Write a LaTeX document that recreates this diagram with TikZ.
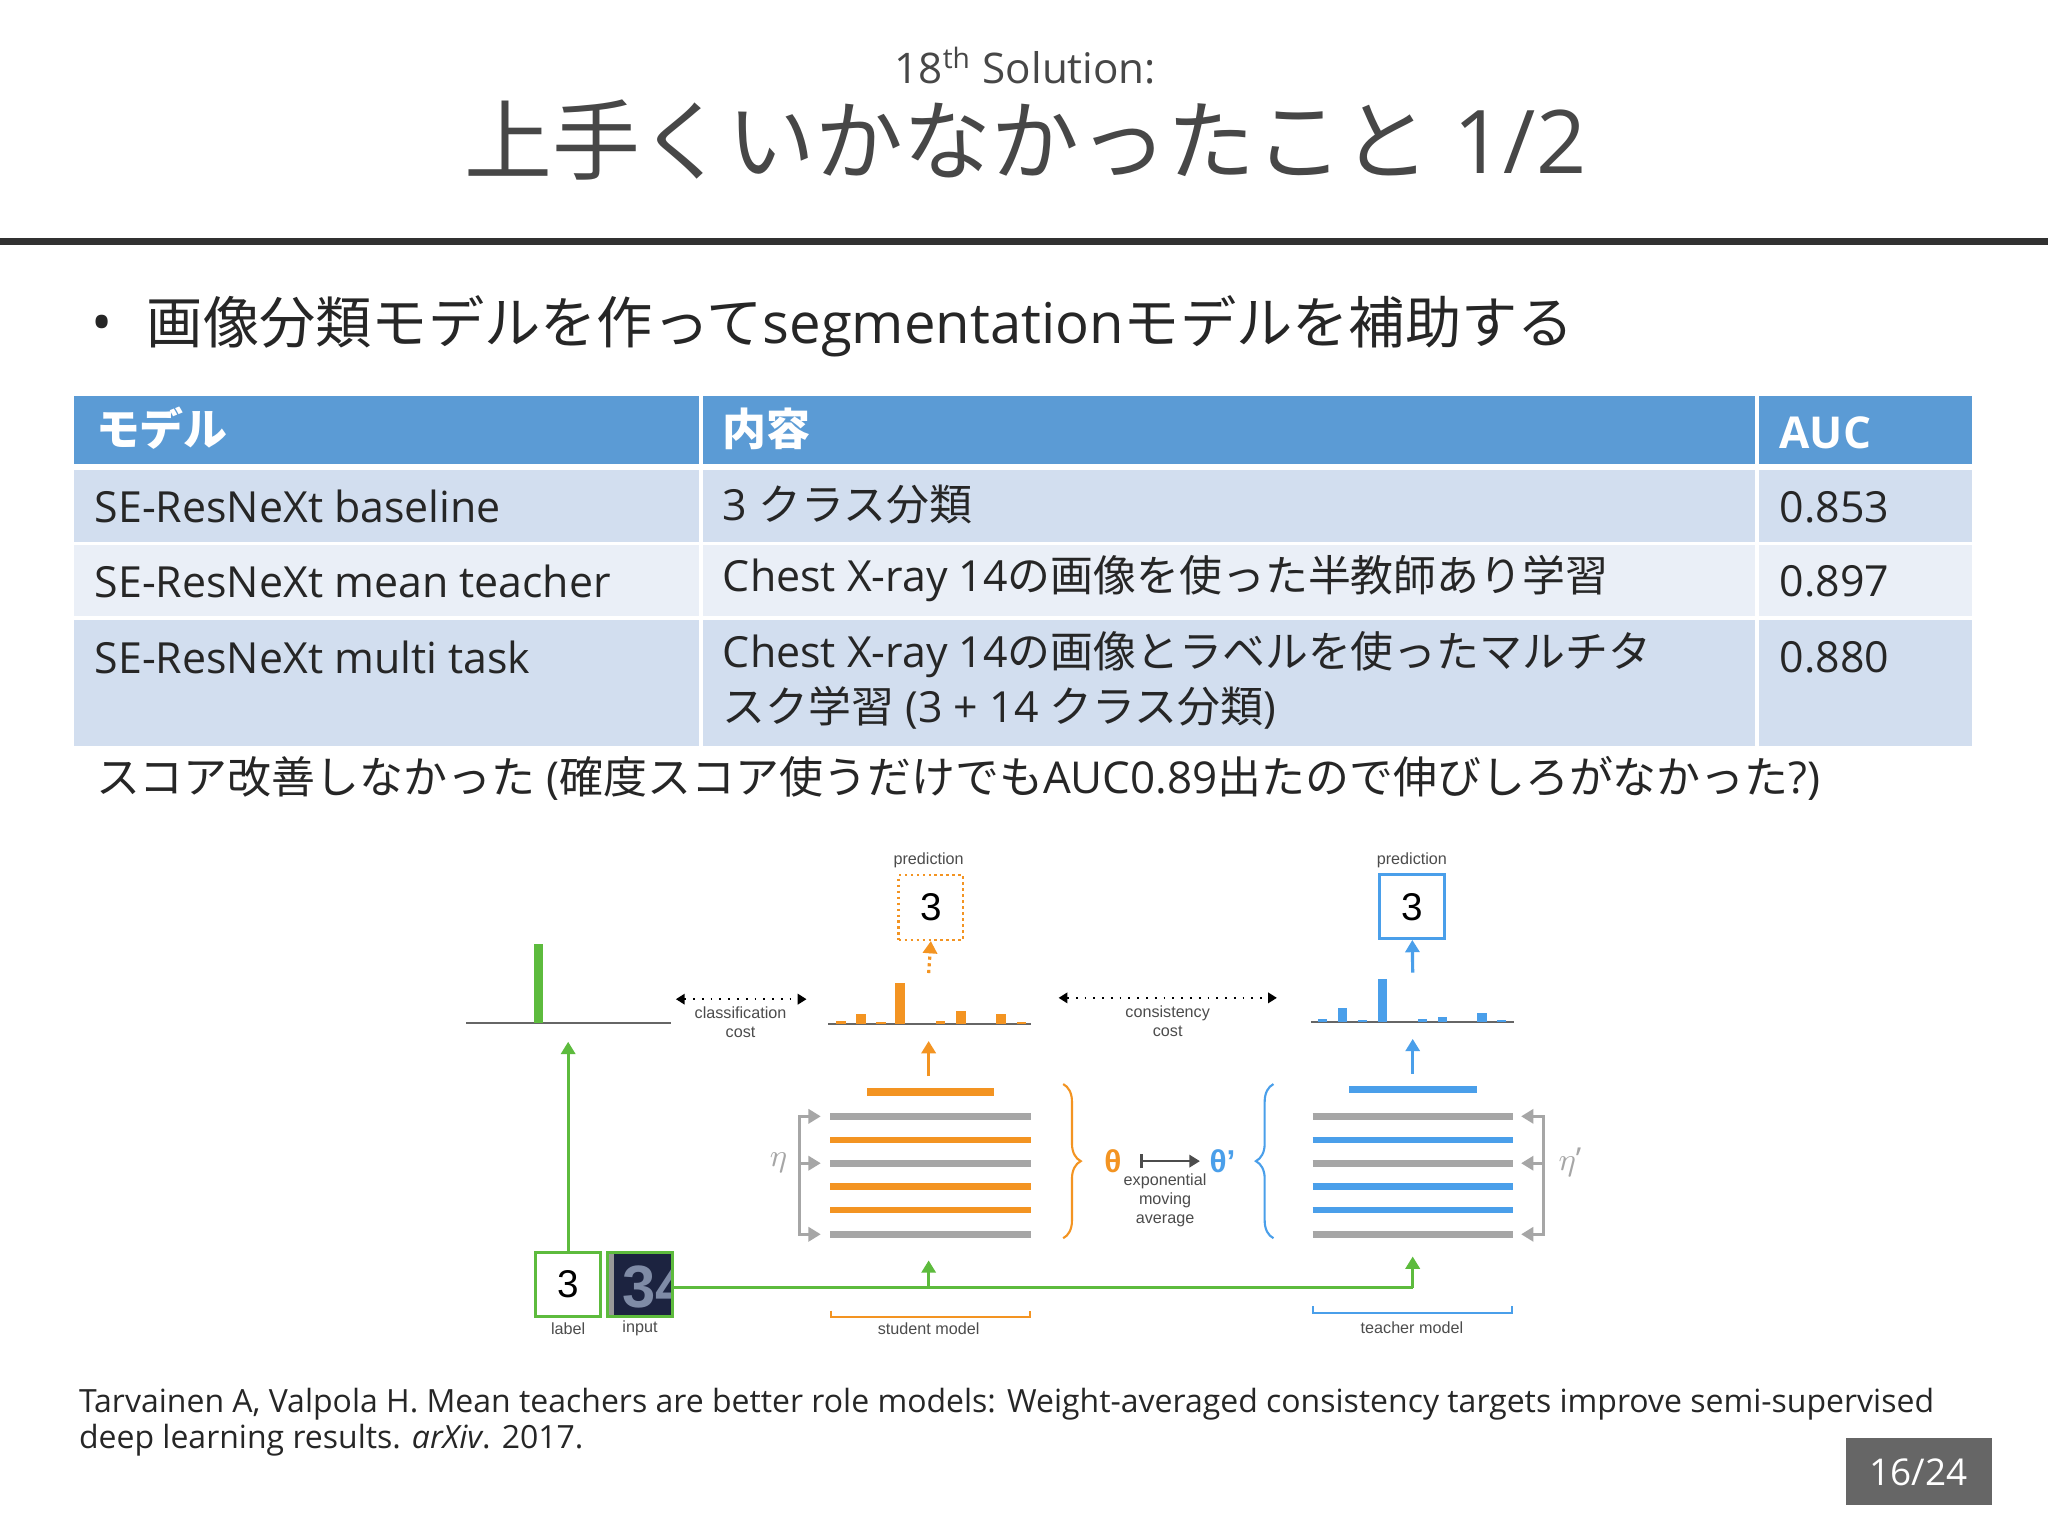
\documentclass[tikz,border=0pt]{standalone}
\usepackage{fontspec}
\setmainfont{Open Sans}
\newfontfamily\cjk{Noto Sans CJK JP}
\newfontfamily\dg{Liberation Sans}
\usetikzlibrary{arrows.meta,decorations.pathreplacing}
\definecolor{hdr}{HTML}{5B9BD5}
\definecolor{rowa}{HTML}{D2DEEF}
\definecolor{rowb}{HTML}{EAEFF7}
\definecolor{txt}{HTML}{262626}
\definecolor{gor}{HTML}{F39422}
\definecolor{gbl}{HTML}{4A9FEA}
\definecolor{ggr}{HTML}{5DBB3D}
\definecolor{gly}{HTML}{A6A6A6}
\definecolor{navy}{HTML}{1C2340}
\definecolor{digit}{HTML}{7F8BA6}
\tikzset{
  tt/.style={anchor=west,text=txt,font=\fontsize{12.2}{14}\selectfont,inner sep=0},
  th/.style={anchor=west,text=white,font=\bfseries\fontsize{12.5}{14}\selectfont,inner sep=0},
  sm/.style={text=black!70,font=\dg\fontsize{4.6}{5.4}\selectfont,inner sep=0,align=center},
  lay/.style={line width=1.9pt},
  barO/.style={fill=gor,draw=none},
  barB/.style={fill=gbl,draw=none},
  up/.style={-{Triangle[width=4pt,length=3.5pt]},line width=0.9pt},
  dotarr/.style={{Triangle[width=3pt,length=2.5pt]}-{Triangle[width=3pt,length=2.5pt]},dotted,line width=0.5pt,black},
  grar/.style={-{Triangle[width=4pt,length=3.5pt]},line width=0.9pt,gly},
  cit/.style={anchor=west,inner sep=0,text=txt,font=\fontsize{9.1}{11}\selectfont},
}
\begin{document}
\begin{tikzpicture}[x=0.013061cm,y=-0.013061cm]
\useasboundingbox (0,0) rectangle (1568,1176);
\fill[white] (0,0) rectangle (1568,1176);
% title
\node (sub) at (785,50) {\fontsize{12}{14}\selectfont\color{txt!85}18\textsuperscript{th} Solution:};
\node (title) at (785,107) {\fontsize{25}{30}\selectfont\color{txt!85}{\cjk 上手くいかなかったこと} 1/2};
\draw[line width=2.2pt,txt!95] (0,185) -- (1568,185);
% bullet
\node (bul) at (78,252) {\fontsize{16}{18}\selectfont\color{txt}•};
\node[anchor=west,inner sep=0] (btxt) at (112,250) {\fontsize{16}{18}\selectfont\color{txt}{\cjk 画像分類モデルを作って}segmentation{\cjk モデルを補助する}};
% table
\fill[hdr] (57,303) rectangle (1510,355);
\fill[rowa] (57,360) rectangle (1510,415);
\fill[rowb] (57,417) rectangle (1510,472);
\fill[rowa] (57,475) rectangle (1510,571);
\draw[white,line width=1.2pt] (537,303) -- (537,571) (1345,303) -- (1345,571);
\node[th] (h1) at (73,328) {\cjk モデル};
\node[th] (h2) at (553,328) {\cjk 内容};
\node[th] (h3) at (1362,331) {AUC};
\node[tt] (r1a) at (72,388) {SE-ResNeXt baseline};
\node[tt] (r1b) at (553,386) {3 {\cjk クラス分類}};
\node[tt] (r1c) at (1362,388) {0.853};
\node[tt] (r2a) at (72,445) {SE-ResNeXt mean teacher};
\node[tt] (r2b) at (553,443) {Chest X-ray 14{\cjk の画像を使った半教師あり学習}};
\node[tt] (r2c) at (1362,445) {0.897};
\node[tt] (r3a) at (72,503) {SE-ResNeXt multi task};
\node[tt] (r3b) at (553,501) {Chest X-ray 14{\cjk の画像とラベルを使ったマルチタ}};
\node[tt] (r3d) at (553,542) {{\cjk スク学習} (3 + 14 {\cjk クラス分類})};
\node[tt] (r3c) at (1362,503) {0.880};
\node[tt,font=\fontsize{12.5}{14}\selectfont] (note) at (73,596) {{\cjk スコア改善しなかった} ({\cjk 確度スコア使うだけでも}AUC0.89{\cjk 出たので伸びしろがなかった}?)};
% citation
\node[cit] (cit1) at (60,1075) {Tarvainen A, Valpola H. Mean teachers are better role models: Weight-averaged consistency targets improve semi-supervised};
\node[cit] (cit2) at (60,1103) {deep learning results. \textit{arXiv}. 2017.};
\fill[black!60] (1413,1101) rectangle (1525,1152);
\node[text=white,font=\fontsize{10.5}{12}\selectfont] (pg) at (1469,1127) {16/24};
% ---------- diagram ----------
\draw[ggr,line width=0.8pt,fill=white] (410,959) rectangle (460,1008) node[midway,black,font=\dg\fontsize{11}{12}\selectfont] (labt) {3};
\coordinate (labtop) at (435,959);
\begin{scope}
\clip (465,959) rectangle (515,1008);
\fill[navy] (465,959) rectangle (515,1008);
\fill[black!40] (465,959) rectangle (470,1008);
\node[text=digit,font=\dg\bfseries\fontsize{17}{18}\selectfont] (inp) at (502,985) {34};
\end{scope}
\draw[ggr,line width=0.8pt] (465,959) rectangle (515,1008);
\coordinate (inr) at (515,986);
\node[sm] (labl) at (435,1017) {label};
\node[sm] (inpl) at (490,1017) {input};
% green target histogram
\draw[black!60,line width=0.6pt] (357,783) -- (514,783);
\fill[ggr] (408.7,722.7) rectangle (415.8,783);
\coordinate (gtop) at (435,797.6);
\draw[up,ggr] (labtop) -- (gtop);
% green input line
\coordinate (sIn) at (711,965);
\coordinate (tIn) at (1081.6,962);
\draw[ggr,line width=0.9pt] (inr) -- (1081.6,986);
\draw[up,ggr] (711,986) -- (sIn);
\draw[up,ggr] (1081.6,986) -- (tIn);
% classification cost
\coordinate (cl1) at (517.5,765); \coordinate (cl2) at (617.5,765);
\draw[dotarr] (cl1) -- (cl2);
\node[sm] (clt) at (567,783) {classification\\cost};
% consistency cost
\coordinate (cs1) at (810.5,764); \coordinate (cs2) at (977.6,764);
\draw[dotarr] (cs1) -- (cs2);
\node[sm] (cst) at (894,782) {consistency\\cost};
% student histogram
\draw[black!60,line width=0.6pt] (634,783.7) -- (789,783.7);
\foreach \x/\h in {643.7/2,659/7,674.6/1.2,689.3/31,720/2,735.8/10,766.6/7,782/1.2}
  \fill[barO] (\x-3.7,783.7-\h) rectangle (\x+3.7,783.7);
% teacher histogram
\draw[black!60,line width=0.6pt] (1003.7,782.2) -- (1159.5,782.2);
\foreach \x/\h in {1012.5/2,1028/10.7,1043.3/1.2,1058.3/33,1088.9/2,1104.2/3.6,1134.8/6.6,1149.8/1.2}
  \fill[barB] (\x-3.6,782.2-\h) rectangle (\x+3.6,782.2);
% prediction boxes
\node[sm] (pl1) at (711,659) {prediction};
\node[draw=gor,densely dotted,line width=0.7pt,minimum width=18.35pt,minimum height=18.4pt,font=\dg\fontsize{11}{12}\selectfont] (p1) at (712.7,694.8) {3};
\node[sm] (pl2) at (1081,659) {prediction};
\node[draw=gbl,line width=0.8pt,minimum width=18.5pt,minimum height=18.1pt,font=\dg\fontsize{11}{12}\selectfont] (p2) at (1081.3,694.2) {3};
% arrows to boxes
\draw[up,gor,densely dotted] (711,745) -- (p1.south);
\draw[up,gbl] (1081.6,744.6) -- (p2.south);
\draw[up,gor] (711,824) -- (711,797);
\draw[up,gbl] (1081.6,822) -- (1081.6,795.4);
% top layers
\draw[gor,line width=2.1pt] (664,836) -- (761,836);
\draw[gbl,line width=2.1pt] (1033,834) -- (1130.6,834);
% layers
\foreach \y/\c in {854.7/gly,872.7/gor,890.6/gly,908.6/gor,926.5/gor,945/gly}
  \draw[lay,\c] (635.8,\y) -- (789.3,\y);
\foreach \y/\c in {854.7/gly,872.7/gbl,890.6/gly,908.6/gbl,926.5/gbl,945/gly}
  \draw[lay,\c] (1005,\y) -- (1158.3,\y);
% gray brackets
\draw[gly,line width=0.9pt] (626,854.7) -- (612.2,854.7) -- (612.2,945) -- (626,945);
\foreach \y in {854.7,890.6,945} \draw[grar] (612.2,\y) -- (628.4,\y);
\node[text=gly,font=\fontsize{9}{10}\selectfont] (eta) at (596,890) {$\eta$};
\draw[gly,line width=0.9pt] (1167,854.7) -- (1181.6,854.7) -- (1181.6,945) -- (1167,945);
\foreach \y in {854.7,890.6,945} \draw[grar] (1181.6,\y) -- (1164.6,\y);
\node[text=gly,font=\fontsize{9}{10}\selectfont] (eta2) at (1202,890) {$\eta$’};
% braces
\draw[gor,line width=0.6pt,decorate,decoration={brace,amplitude=5pt}] (814,830) -- (814,948);
\draw[gbl,line width=0.6pt,decorate,decoration={brace,amplitude=5pt,mirror}] (975,830) -- (975,948);
% EMA
\node[text=gor,font=\dg\bfseries\fontsize{9}{10}\selectfont] (th1) at (852,889) {θ};
\node[text=gbl,font=\dg\bfseries\fontsize{9}{10}\selectfont] (th2) at (936,889) {θ’};
\draw[{Bar[width=4pt]}-{Triangle[width=3.5pt,length=3pt]},line width=0.7pt,black!70] (th1.east) ++(5,0) -- (918.7,889);
\node[sm] (ema) at (892,919) {exponential\\moving\\average};
% model brackets
\draw[gor,line width=0.6pt] (636,1003.5) -- (636,1008.6) -- (788.7,1008.6) -- (788.7,1003.5);
\node[sm] (sm) at (711,1017.5) {student model};
\draw[gbl,line width=0.6pt] (1005,1000) -- (1005,1005) -- (1157.5,1005) -- (1157.5,1000);
\node[sm] (tm) at (1081,1016.5) {teacher model};
\end{tikzpicture}
\end{document}
